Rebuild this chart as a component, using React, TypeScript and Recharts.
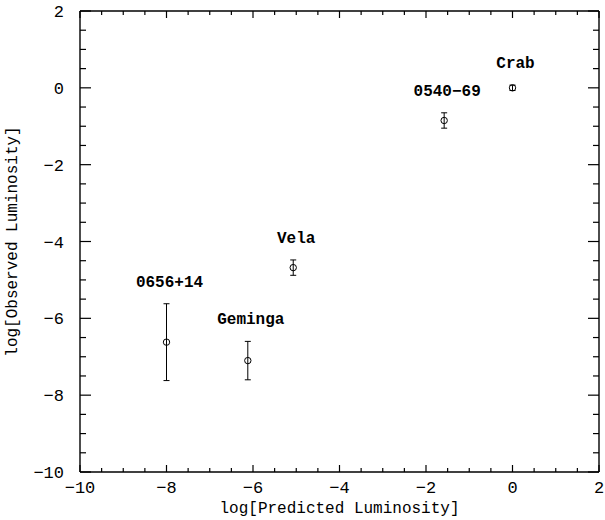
import { ErrorBar, Label, Scatter, ScatterChart, XAxis, YAxis } from "recharts"

// pulsars: predicted vs observed luminosity (log)
const names = ["Crab", "0540−69", "Vela", "0656+14", "Geminga"]
const predicted = [0, -1.58, -5.07, -8.0, -6.12]
const observed = [0, -0.85, -4.68, -6.62, -7.1]
const errors = [0.07, 0.2, 0.2, 1.0, 0.5]

const xTicks = [-10, -9.5, -9, -8.5, -8, -7.5, -7, -6.5, -6, -5.5, -5, -4.5, -4, -3.5, -3, -2.5, -2, -1.5, -1, -0.5, 0, 0.5, 1, 1.5, 2]
const yTicks = xTicks

const points = names.map((name, i) => ({ name, x: predicted[i], y: observed[i], err: errors[i] }))
const labelPoints = names.map((name, i) => ({ name, x: predicted[i], y: observed[i] + errors[i] }))

const FONT = "'Liberation Mono', 'DejaVu Sans Mono', monospace"

const fmt = (v: number) => (v < 0 ? `−${Math.abs(v)}` : `${v}`)

function makeTick(side: "bottom" | "top" | "left" | "right") {
  return (props: any) => {
    const { x, y, payload } = props
    const v = payload.value as number
    const major = Math.abs(v % 2) < 1e-9
    const hLen = major ? 11 : 6 // ticks on the y axes
    const vLen = major ? 7 : 4 // ticks on the x axes
    if (side === "bottom") {
      return (
        <g>
          <line x1={x} y1={y} x2={x} y2={y - vLen} stroke="#000" strokeWidth={1.2} />
          {major && (
            <text x={x} y={y + 21} textAnchor="middle" fontFamily={FONT} fontSize={17} fill="#000">
              {fmt(v)}
            </text>
          )}
        </g>
      )
    }
    if (side === "top") {
      return <line x1={x} y1={y} x2={x} y2={y + vLen} stroke="#000" strokeWidth={1.2} />
    }
    if (side === "left") {
      return (
        <g>
          <line x1={x} y1={y} x2={x + hLen} y2={y} stroke="#000" strokeWidth={1.2} />
          {major && (
            <text x={x - 16} y={y + 6} textAnchor="end" fontFamily={FONT} fontSize={17} fill="#000">
              {fmt(v)}
            </text>
          )}
        </g>
      )
    }
    return <line x1={x} y1={y} x2={x - hLen} y2={y} stroke="#000" strokeWidth={1.2} />
  }
}

const circleShape = (p: any) => <circle cx={p.cx} cy={p.cy} r={3.2} fill="none" stroke="#000" strokeWidth={1} />

const nameShape = (p: any) => (
  <text x={p.cx + 3} y={p.cy - 17} textAnchor="middle" fontFamily={FONT} fontSize={16} fontWeight="bold" fill="#000">
    {p.payload.name}
  </text>
)

export default function App() {
  return (
    <div style={{ position: "fixed", left: 0, top: 0, background: "#fff" }}>
      <ScatterChart width={605} height={520} margin={{ top: 10, right: 5, bottom: 8, left: 20 }}>
        <XAxis
          dataKey="x"
          type="number"
          domain={[-10, 2]}
          ticks={xTicks}
          interval={0}
          allowDataOverflow
          height={40}
          tickSize={0}
          tickMargin={0}
          tickLine={false}
          axisLine={{ stroke: "#000", strokeWidth: 1.4 }}
          tick={makeTick("bottom")}
        >
          <Label
            content={(props: any) => {
              const vb = props.viewBox
              return (
                <text x={vb.x + vb.width / 2} y={vb.y + 41} textAnchor="middle" fontFamily={FONT} fontSize={16} fill="#000">
                  log[Predicted Luminosity]
                </text>
              )
            }}
          />
        </XAxis>
        <XAxis
          xAxisId="top"
          orientation="top"
          dataKey="x"
          type="number"
          domain={[-10, 2]}
          ticks={xTicks}
          interval={0}
          allowDataOverflow
          height={1}
          tickSize={0}
          tickMargin={0}
          tickLine={false}
          axisLine={{ stroke: "#000", strokeWidth: 1.4 }}
          tick={makeTick("top")}
        />
        <YAxis
          dataKey="y"
          type="number"
          domain={[-10, 2]}
          ticks={yTicks}
          interval={0}
          allowDataOverflow
          width={60}
          tickSize={0}
          tickMargin={0}
          tickLine={false}
          axisLine={{ stroke: "#000", strokeWidth: 1.4 }}
          tick={makeTick("left")}
        >
          <Label
            content={(props: any) => {
              const vb = props.viewBox
              const cx = vb.x - 3
              const cy = vb.y + vb.height / 2
              return (
                <text
                  x={cx}
                  y={cy}
                  transform={`rotate(-90, ${cx}, ${cy})`}
                  textAnchor="middle"
                  fontFamily={FONT}
                  fontSize={16}
                  fill="#000"
                >
                  log[Observed Luminosity]
                </text>
              )
            }}
          />
        </YAxis>
        <YAxis
          yAxisId="right"
          orientation="right"
          dataKey="y"
          type="number"
          domain={[-10, 2]}
          ticks={yTicks}
          interval={0}
          allowDataOverflow
          width={1}
          tickSize={0}
          tickMargin={0}
          tickLine={false}
          axisLine={{ stroke: "#000", strokeWidth: 1.4 }}
          tick={makeTick("right")}
        />
        <Scatter data={points} shape={circleShape} isAnimationActive={false}>
          <ErrorBar dataKey="err" direction="y" width={3} stroke="#000" strokeWidth={1} />
        </Scatter>
        <Scatter data={labelPoints} shape={nameShape} isAnimationActive={false} />
      </ScatterChart>
    </div>
  )
}
